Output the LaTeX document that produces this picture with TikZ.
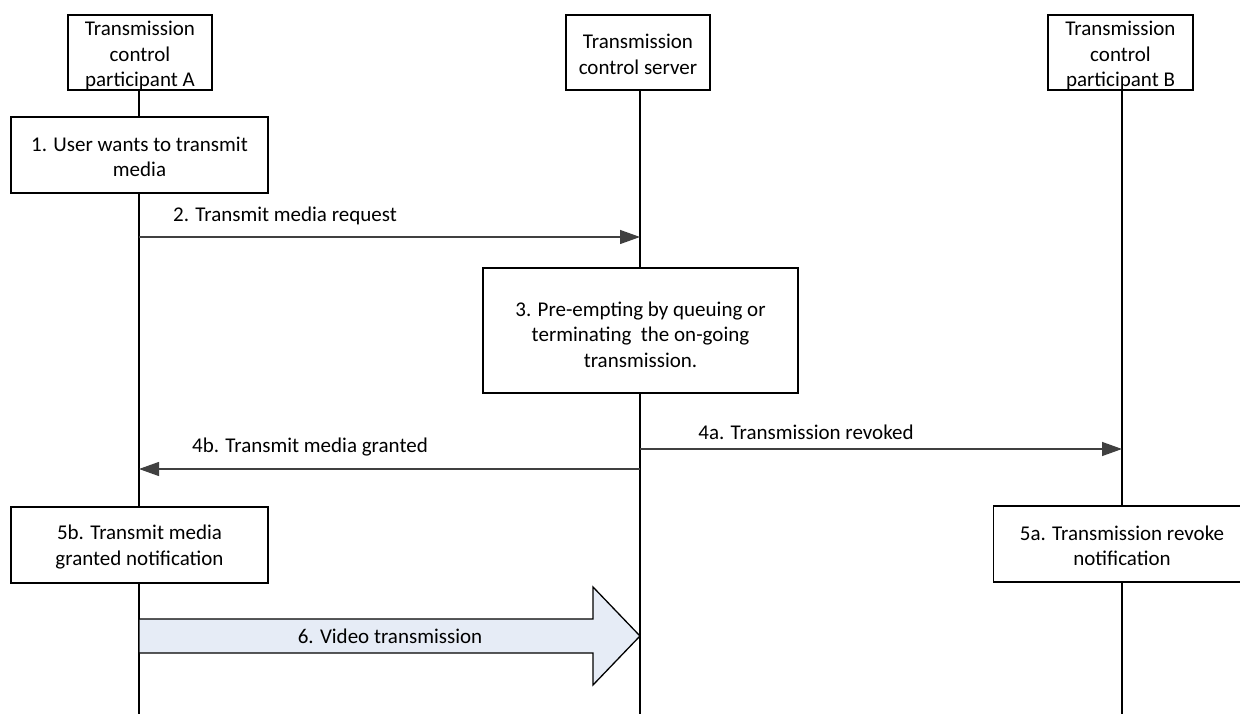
\documentclass[tikz,border=0pt]{standalone}
\usepackage{fontspec}
\setmainfont{Carlito}
\usetikzlibrary{arrows.meta}
\definecolor{linegray}{HTML}{404040}
\definecolor{blockfill}{HTML}{E6ECF6}
\tikzset{
  actor/.style={draw=black, line width=1.3pt, fill=white, minimum width=144pt, minimum height=75pt, inner sep=0pt},
  stepbox/.style={draw=black, line width=1.3pt, fill=white, minimum width=257pt, minimum height=76pt, inner sep=0pt},
  boxtext/.style={align=center, inner sep=0pt, font=\fontsize{21}{25.5}\selectfont},
  lifeline/.style={draw=black, line width=1.3pt},
  msg/.style={draw=linegray, line width=1.3pt, -{Triangle[length=20pt,width=14pt]}},
  lbl/.style={font=\fontsize{21}{25.5}\selectfont, inner sep=0pt},
  bigarrow/.style={draw=black, line width=1.3pt, fill=blockfill, line join=miter}
}
\begin{document}
\begin{tikzpicture}[x=1pt,y=-1pt]
\useasboundingbox (0,0) rectangle (1240,714);
% lifeline coordinates
\coordinate (Atop) at (139,90);
\coordinate (Abot) at (139,714);
\coordinate (Stop) at (640,90);
\coordinate (Sbot) at (640,714);
\coordinate (Btop) at (1122,90);
\coordinate (Bbot) at (1122,714);
\draw[lifeline] (Atop) -- (Abot);
\draw[lifeline] (Stop) -- (Sbot);
\draw[lifeline] (Btop) -- (Bbot);
% headers
\node[actor] (hA) at (140,52.5) {};
\node[boxtext] (hAt) at ([yshift=-3pt]hA.center) {Transmission\\control\\participant A};
\node[actor] (hS) at (638,52.5) {};
\node[boxtext] (hSt) at ([yshift=-2pt]hS.center) {Transmission\\control server};
\node[actor, minimum width=145pt] (hB) at (1120.5,52.5) {};
\node[boxtext] (hBt) at ([yshift=-3pt]hB.center) {Transmission\\control\\participant B};
% step 1
\node[stepbox] (s1) at (139.5,155) {};
\node[boxtext] (s1t) at ([yshift=-2pt]s1.center) {1. User wants to transmit\\media};
% message 2
\coordinate (m2a) at (139,237);
\coordinate (m2s) at (640,237);
\draw[msg] (m2a) -- (m2s);
\node[lbl] (l2) at (285,216) {2. Transmit media request};
% step 3
\node[stepbox, minimum width=315pt, minimum height=125pt] (s3) at (640.5,330.5) {};
\node[boxtext] (s3t) at ([yshift=-4pt]s3.center) {3. Pre-empting by queuing or\\terminating \ the on-going\\transmission.};
% message 4a
\coordinate (m4as) at (640,449);
\coordinate (m4ab) at (1122,449);
\draw[msg] (m4as) -- (m4ab);
\node[lbl] (l4a) at (806,432) {4a. Transmission revoked};
% message 4b
\coordinate (m4bs) at (640,469);
\coordinate (m4ba) at (139,469);
\draw[msg] (m4bs) -- (m4ba);
\node[lbl] (l4b) at (310,447) {4b. Transmit media granted};
% steps 5b, 5a
\node[stepbox] (s5b) at (139.5,545) {};
\node[boxtext] (s5bt) at ([yshift=-2pt]s5b.center) {5b. Transmit media\\granted notification};
\node[stepbox] (s5a) at (1122,544) {};
\node[boxtext] (s5at) at ([yshift=-2pt]s5a.center) {5a. Transmission revoke\\notification};
% block arrow 6
\coordinate (b6start) at (139,636);
\coordinate (b6tip) at (640,636);
\draw[bigarrow] (b6start) ++(0,-17) -- (593,619) -- (593,587) -- (b6tip) -- (593,685) -- (593,653) -- (139,653) -- cycle;
\node[lbl] (l6) at (390,636) {6. Video transmission};
\end{tikzpicture}
\end{document}
